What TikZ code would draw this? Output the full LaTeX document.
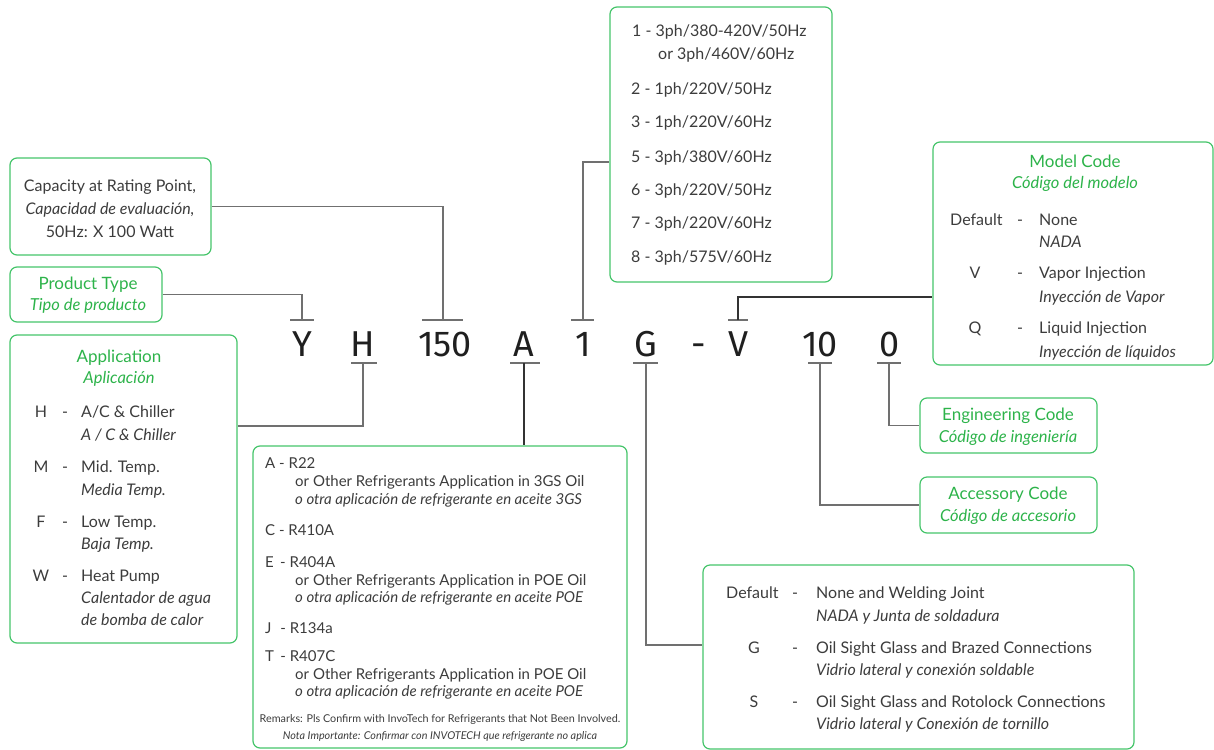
\documentclass[tikz,border=0pt]{standalone}
\usepackage{fontspec}
\setmainfont{Lato}
\newfontfamily\codefont{Fira Sans}
\definecolor{grn}{HTML}{2DB34A}
\definecolor{bgrn}{HTML}{45C46A}
\definecolor{txt}{HTML}{3C3C3C}
\definecolor{ln}{HTML}{707070}
\begin{document}
\begin{tikzpicture}[x=1pt,y=-1pt,
  box/.style={draw=bgrn, line width=1.2pt, rounded corners=7pt, inner sep=0pt},
  tx/.style={text=txt, font=\fontsize{16}{18}\selectfont, inner sep=0pt, anchor=base west},
  txc/.style={tx, anchor=base},
  it/.style={tx, font=\fontsize{16}{18}\selectfont\itshape},
  itc/.style={it, anchor=base},
  rt/.style={tx, font=\fontsize{15}{17}\selectfont},
  ri/.style={tx, font=\fontsize{15}{17}\selectfont\itshape},
  ttl/.style={text=grn, font=\fontsize{17}{19}\selectfont, inner sep=0pt, anchor=base},
  ttli/.style={ttl, font=\fontsize{16.5}{19}\selectfont\itshape},
  sm/.style={text=txt, font=\fontsize{10.8}{12}\selectfont, inner sep=0pt, anchor=base},
  code/.style={text=black!88, font=\fontsize{36}{40}\selectfont\codefont, inner sep=0pt, anchor=base},
  conn/.style={draw=ln, line width=1.3pt},
  bar/.style={draw=ln, line width=1.5pt}]
\useasboundingbox (0,0) rectangle (1214,749);

% ---------- code row ----------
\node[code] (cY) at (302,356) {Y};
\node[code] (cH) at (363,356) {H};
\node[code] (c150) at (445,356) {150};
\node[code] (cA) at (524,356) {A};
\node[code] (c1) at (583,356) {1};
\node[code] (cG) at (646,356) {G};
\node[code] (cD) at (699,356) {-};
\node[code] (cV) at (738,356) {V};
\node[code] (c10) at (820,356) {10};
\node[code] (c0) at (890,356) {0};

% T bars
\coordinate (tY) at (302,320);
\coordinate (t150) at (443,320);
\coordinate (t1) at (583,320);
\coordinate (tV) at (738,320);
\coordinate (bH) at (363,363);
\coordinate (bA) at (524,363);
\coordinate (bG) at (646,363);
\coordinate (b10) at (820,363);
\coordinate (b0) at (889,363);
\draw[bar] ([xshift=-12pt]tY) -- ([xshift=12pt]tY);
\draw[bar] ([xshift=-21pt]t150) -- ([xshift=20pt]t150);
\draw[bar] ([xshift=-12pt]t1) -- ([xshift=11pt]t1);
\draw[bar] ([xshift=-10pt]tV) -- ([xshift=10pt]tV);
\draw[bar] ([xshift=-12pt]bH) -- ([xshift=14pt]bH);
\draw[bar] ([xshift=-14pt]bA) -- ([xshift=16pt]bA);
\draw[bar] ([xshift=-13pt]bG) -- ([xshift=12pt]bG);
\draw[bar] ([xshift=-12pt]b10) -- ([xshift=12pt]b10);
\draw[bar] ([xshift=-12pt]b0) -- ([xshift=12pt]b0);

% ---------- Capacity box ----------
\node[box, minimum width=201pt, minimum height=97pt] (cap) at (110.5,206.5) {};
\node[txc] (cap1) at (110,191) {Capacity at Rating Point,};
\node[itc] (cap2) at (110,214) {Capacidad de evaluación,};
\node[txc] (cap3) at (110,237) {50Hz: X 100 Watt};
\draw[conn] (cap.east) -| (t150);

% ---------- Product type ----------
\node[box, minimum width=152pt, minimum height=55pt] (pt) at (86,294.5) {};
\node[ttl] (pt1) at (88,289) {Product Type};
\node[ttli] (pt2) at (88,310) {Tipo de producto};
\draw[conn] (pt.east) -| (tY);

% ---------- Application ----------
\node[box, minimum width=227pt, minimum height=308pt] (app) at (123.5,489) {};
\node[ttl] (ap1) at (119,362) {Application};
\node[ttli] (ap2) at (119,383) {Aplicación};
\node[txc] (apH) at (41,417) {H};
\node[txc] (apHd) at (65,417) {-};
\node[tx] (apHt) at (81,417) {A/C \& Chiller};
\node[it] (apHi) at (81,440) {A / C \& Chiller};
\node[txc] (apM) at (41,472) {M};
\node[txc] (apMd) at (65,472) {-};
\node[tx] (apMt) at (81,472) {Mid. Temp.};
\node[it] (apMi) at (81,495) {Media Temp.};
\node[txc] (apF) at (41,527) {F};
\node[txc] (apFd) at (65,527) {-};
\node[tx] (apFt) at (81,527) {Low Temp.};
\node[it] (apFi) at (81,549) {Baja Temp.};
\node[txc] (apW) at (41,581) {W};
\node[txc] (apWd) at (65,581) {-};
\node[tx] (apWt) at (81,581) {Heat Pump};
\node[it] (apWi) at (81,603) {Calentador de agua};
\node[it] (apWj) at (81,625) {de bomba de calor};
\coordinate (kH) at (363,426);
\draw[conn] (bH) -- (kH) -- (kH -| app.east);

% ---------- Refrigerant ----------
\node[box, minimum width=374pt, minimum height=302pt] (ref) at (440,597) {};
\node[rt] (rA) at (265,468) {A - R22};
\node[rt] (rA1) at (295,486) {or Other Refrigerants Application in 3GS Oil};
\node[ri] (rA2) at (295,504) {o otra aplicación de refrigerante en aceite 3GS};
\node[rt] (rC) at (265,535) {C - R410A};
\node[rt] (rE) at (265,567) {E\, - R404A};
\node[rt] (rE1) at (295,585) {or Other Refrigerants Application in POE Oil};
\node[ri] (rE2) at (295,602) {o otra aplicación de refrigerante en aceite POE};
\node[rt] (rJ) at (265,633) {J\,\, - R134a};
\node[rt] (rT) at (265,661) {T\, - R407C};
\node[rt] (rT1) at (295,679) {or Other Refrigerants Application in POE Oil};
\node[ri] (rT2) at (295,696) {o otra aplicación de refrigerante en aceite POE};
\node[sm] (rR1) at (440,722) {Remarks: Pls Confirm with InvoTech for Refrigerants that Not Been Involved.};
\node[sm, font=\fontsize{10.8}{12}\selectfont\itshape] (rR2) at (440,739) {Nota Importante: Confirmar con INVOTECH que refrigerante no aplica};
\draw[conn, draw=black!80] (bA) -- (bA |- ref.north);

% ---------- Voltage ----------
\node[box, minimum width=222pt, minimum height=275pt] (volt) at (721,144.5) {};
\node[tx] (v1) at (632,37) {1 - 3ph/380-420V/50Hz};
\node[tx] (v1b) at (658,60) {or 3ph/460V/60Hz};
\node[tx] (v2) at (631,95) {2 - 1ph/220V/50Hz};
\node[tx] (v3) at (631,128) {3 - 1ph/220V/60Hz};
\node[tx] (v5) at (631,162) {5 - 3ph/380V/60Hz};
\node[tx] (v6) at (631,195) {6 - 3ph/220V/50Hz};
\node[tx] (v7) at (631,228) {7 - 3ph/220V/60Hz};
\node[tx] (v8) at (631,262) {8 - 3ph/575V/60Hz};
\coordinate (k1) at (583,162);
\draw[conn] (t1) -- (k1) -- (k1 -| volt.west);

% ---------- Model code ----------
\node[box, minimum width=280pt, minimum height=223pt] (mc) at (1073,253.5) {};
\node[ttl] (mc1) at (1075,167) {Model Code};
\node[ttli] (mc2) at (1075,188) {Código del modelo};
\node[tx] (mcD) at (950,225) {Default};
\node[txc] (mcDd) at (1020,225) {-};
\node[tx] (mcDt) at (1039,225) {None};
\node[it] (mcDi) at (1039,247) {NADA};
\node[txc] (mcV) at (975,278) {V};
\node[txc] (mcVd) at (1020,278) {-};
\node[tx] (mcVt) at (1039,278) {Vapor Injection};
\node[it] (mcVi) at (1039,302) {Inyección de Vapor};
\node[txc] (mcQ) at (975,333) {Q};
\node[txc] (mcQd) at (1020,333) {-};
\node[tx] (mcQt) at (1039,333) {Liquid Injection};
\node[it] (mcQi) at (1039,357) {Inyección de líquidos};
\coordinate (kV) at (738,297);
\draw[conn, draw=black!80] (tV) -- (kV) -- (kV -| mc.west);

% ---------- Engineering code ----------
\node[box, minimum width=177pt, minimum height=55pt] (eng) at (1008.5,425.5) {};
\node[ttl] (en1) at (1008,420) {Engineering Code};
\node[ttli] (en2) at (1008,442) {Código de ingeniería};
\draw[conn] (b0) |- (eng.west);

% ---------- Accessory code ----------
\node[box, minimum width=177pt, minimum height=56pt] (acc) at (1008.5,505) {};
\node[ttl] (ac1) at (1008,499) {Accessory Code};
\node[ttli] (ac2) at (1008,521) {Código de accesorio};
\draw[conn] (b10) |- (acc.west);

% ---------- Connections box ----------
\node[box, minimum width=431pt, minimum height=184pt] (con) at (918.5,657) {};
\node[tx] (coD) at (726,598) {Default};
\node[txc] (coDd) at (795,598) {-};
\node[tx] (coDt) at (816,598) {None and Welding Joint};
\node[it] (coDi) at (816,621) {NADA y Junta de soldadura};
\node[txc] (coG) at (754,653) {G};
\node[txc] (coGd) at (795,653) {-};
\node[tx] (coGt) at (816,653) {Oil Sight Glass and Brazed Connections};
\node[it] (coGi) at (816,675) {Vidrio lateral y conexión soldable};
\node[txc] (coS) at (754,707) {S};
\node[txc] (coSd) at (795,707) {-};
\node[tx] (coSt) at (816,707) {Oil Sight Glass and Rotolock Connections};
\node[it] (coSi) at (816,729) {Vidrio lateral y Conexión de tornillo};
\coordinate (kG) at (646,645);
\draw[conn] (bG) -- (kG) -- (kG -| con.west);
\end{tikzpicture}
\end{document}
